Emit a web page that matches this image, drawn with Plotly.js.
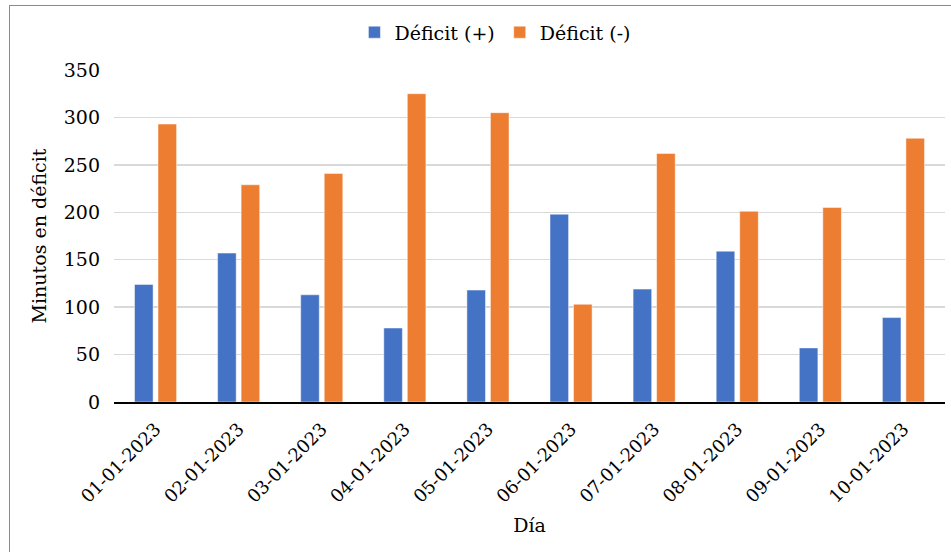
<!DOCTYPE html>
<html>
<head>
<meta charset="utf-8">
<script src="https://cdn.plot.ly/plotly-3.0.1.min.js"></script>
<style>
  html, body { margin: 0; padding: 0; background: #fff; }
  #wrap { position: relative; width: 951px; height: 552px; overflow: hidden; }
  #chart { position: absolute; left: 0; top: 0; width: 951px; height: 552px; }
  #frame { position: absolute; left: 9px; top: 5px; width: 980px; height: 580px; border: 1px solid #8a8a8a; pointer-events: none; }
</style>
</head>
<body>
<div id="wrap">
  <div id="chart"></div>
  <div id="frame"></div>
</div>
<script>
const categories = ["01-01-2023","02-01-2023","03-01-2023","04-01-2023","05-01-2023","06-01-2023","07-01-2023","08-01-2023","09-01-2023","10-01-2023"];
const deficitPlus = [124, 157, 113, 78, 118, 198, 119, 159, 57, 89];
const deficitMinus = [293, 229, 241, 325, 305, 103, 262, 201, 205, 278];
const yTicks = [0, 50, 100, 150, 200, 250, 300, 350];

const font = "DejaVu Serif";

const traces = [
  { type: "bar", name: "Déficit (+)", x: categories, y: deficitPlus,
    marker: { color: "#4472C4", line: { color: "rgba(255,255,255,0.6)", width: 0.8 } } },
  { type: "bar", name: "Déficit (-)", x: categories, y: deficitMinus,
    marker: { color: "#ED7D31", line: { color: "rgba(255,255,255,0.6)", width: 0.8 } } }
];

const layout = {
  width: 951, height: 552,
  margin: { l: 114, r: 6, t: 70, b: 150 },
  paper_bgcolor: "#fff", plot_bgcolor: "#fff",
  font: { family: font, size: 18, color: "#000" },
  barmode: "group",
  bargap: 0.434,
  bargroupgap: 0.21,
  showlegend: true,
  legend: { orientation: "h", x: 0.459, xanchor: "center", y: 0.907, yanchor: "bottom",
            yref: "container", itemwidth: 30, font: { family: font, size: 19 } },
  xaxis: {
    type: "category",
    tickangle: -45,
    showgrid: false,
    showline: true, linecolor: "#000", linewidth: 1.5,
    ticks: "", ticklabelstandoff: 8,
    title: { text: "Día", font: { family: font, size: 19 }, standoff: 13 },
    tickfont: { family: font, size: 18 }
  },
  yaxis: {
    range: [0, 350],
    tickvals: yTicks,
    showgrid: true, gridcolor: "#D9D9D9", gridwidth: 1.3,
    zeroline: false, showline: false,
    ticks: "", ticklabelstandoff: 13,
    title: { text: "Minutos en déficit", font: { family: font, size: 19 }, standoff: 12 },
    tickfont: { family: font, size: 19 }
  }
};

Plotly.newPlot("chart", traces, layout, { displayModeBar: false, staticPlot: true });
</script>
</body>
</html>
